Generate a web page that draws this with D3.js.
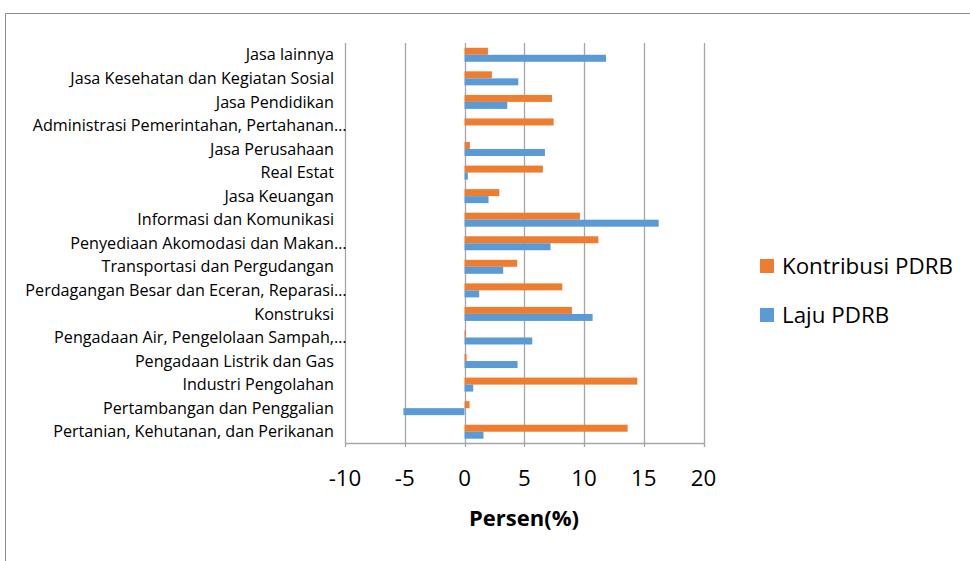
<!DOCTYPE html>
<html><head><meta charset="utf-8">
<script src="https://cdn.jsdelivr.net/npm/d3@7"></script>
<style>body{margin:0;background:#fff}svg{display:block}</style>
</head><body>
<svg id="c" width="970" height="561"></svg>
<script>
const categories = [
  "Pertanian, Kehutanan, dan Perikanan",
  "Pertambangan dan Penggalian",
  "Industri Pengolahan",
  "Pengadaan Listrik dan Gas",
  "Pengadaan Air, Pengelolaan Sampah,",
  "Konstruksi",
  "Perdagangan Besar dan Eceran, Reparasi",
  "Transportasi dan Pergudangan",
  "Penyediaan Akomodasi dan Makan",
  "Informasi dan Komunikasi",
  "Jasa Keuangan",
  "Real Estat",
  "Jasa Perusahaan",
  "Administrasi Pemerintahan, Pertahanan",
  "Jasa Pendidikan",
  "Jasa Kesehatan dan Kegiatan Sosial",
  "Jasa lainnya"
];
const truncated = [false,false,false,false,true,false,true,false,true,false,false,false,false,true,false,false,false];
const kontribusi = [13.65, 0.42, 14.46, 0.17, 0.1, 8.99, 8.18, 4.41, 11.2, 9.66, 2.91, 6.56, 0.45, 7.46, 7.32, 2.29, 1.96];
const laju = [1.59, -5.11, 0.73, 4.44, 5.67, 10.72, 1.23, 3.24, 7.2, 16.25, 2.01, 0.28, 6.73, 0, 3.58, 4.5, 11.84];
const xTicks = [-10, -5, 0, 5, 10, 15, 20];
const seriesNames = ["Kontribusi PDRB", "Laju PDRB"];
const colors = ["#ED7D31", "#5B9BD5"];

const svg = d3.select("#c");
const font = "'Open Sans', Lato, sans-serif";

// fit a font size so that a sample string has the target width
function fitSize(sample, target, weight) {
  const t = svg.append("text").attr("font-family", font).attr("font-size", 20)
    .attr("font-weight", weight || "normal").text(sample);
  const w = t.node().getComputedTextLength();
  t.remove();
  return 20 * target / w;
}
const labelSize = fitSize("Jasa Kesehatan dan Kegiatan Sosial", 264);
const tickSize = fitSize("20", 25.5);
const titleSize = fitSize("Persen(%)", 110, "bold");
const legendSize = fitSize("Kontribusi PDRB", 171);

// outer frame
svg.append("path").attr("d", "M5.5,561 L5.5,13.5 L970,13.5").attr("fill","none").attr("stroke","#8c8c8c").attr("stroke-width",1);

const x = d3.scaleLinear().domain([-10, 20]).range([345, 703.5]);
const y = d3.scaleBand().domain(d3.range(categories.length).reverse()).range([43, 443.5]);
const bh = 7;

// gridlines
svg.append("g").selectAll("line").data(xTicks).join("line")
  .attr("x1", d => Math.round(x(d)) + 0.5).attr("x2", d => Math.round(x(d)) + 0.5)
  .attr("y1", 43).attr("y2", 447)
  .attr("stroke", "#a6a6a6").attr("stroke-width", 1.3);

// bottom axis
svg.append("line").attr("x1", x(-10)).attr("x2", x(20) + 1).attr("y1", 443.5).attr("y2", 443.5)
  .attr("stroke", "#a6a6a6").attr("stroke-width", 1.3);

// bars
const g = svg.append("g");
categories.forEach((c, i) => {
  const cy = y(i) + y.bandwidth() / 2;
  [kontribusi[i], laju[i]].forEach((v, s) => {
    const x0 = x(Math.min(0, v)), x1 = x(Math.max(0, v));
    g.append("rect")
      .attr("x", x0).attr("width", Math.max(0, x1 - x0))
      .attr("y", s === 0 ? cy - bh : cy).attr("height", bh)
      .attr("fill", colors[s]);
  });
});

// category labels
const lg = svg.append("g").attr("font-family", font).attr("font-size", labelSize).attr("fill", "#000");
categories.forEach((c, i) => {
  const cy = y(i) + y.bandwidth() / 2;
  lg.append("text").attr("x", 334).attr("y", cy).attr("dy", "0.35em").attr("text-anchor", "end").text(c);
  if (truncated[i]) lg.append("text").attr("x", 334).attr("y", cy).attr("dy", "0.35em").text("…");
});

// tick labels
svg.append("g").selectAll("text").data(xTicks).join("text")
  .attr("x", d => x(d)).attr("y", 486).attr("text-anchor", "middle")
  .attr("font-family", font).attr("font-size", tickSize).attr("fill", "#000")
  .text(d => d);

svg.append("text").attr("x", 524).attr("y", 526).attr("text-anchor", "middle")
  .attr("font-family", font).attr("font-size", titleSize).attr("font-weight", "bold").text("Persen(%)");

// legend
const leg = svg.append("g");
seriesNames.forEach((n, i) => {
  const ly = 259 + i * 49;
  leg.append("rect").attr("x", 760).attr("y", ly).attr("width", 14).attr("height", 14).attr("fill", colors[i]);
  leg.append("text").attr("x", 782).attr("y", ly + 7).attr("dy", "0.35em")
    .attr("font-family", font).attr("font-size", legendSize).attr("fill", "#000").text(n);
});
</script>
</body></html>
